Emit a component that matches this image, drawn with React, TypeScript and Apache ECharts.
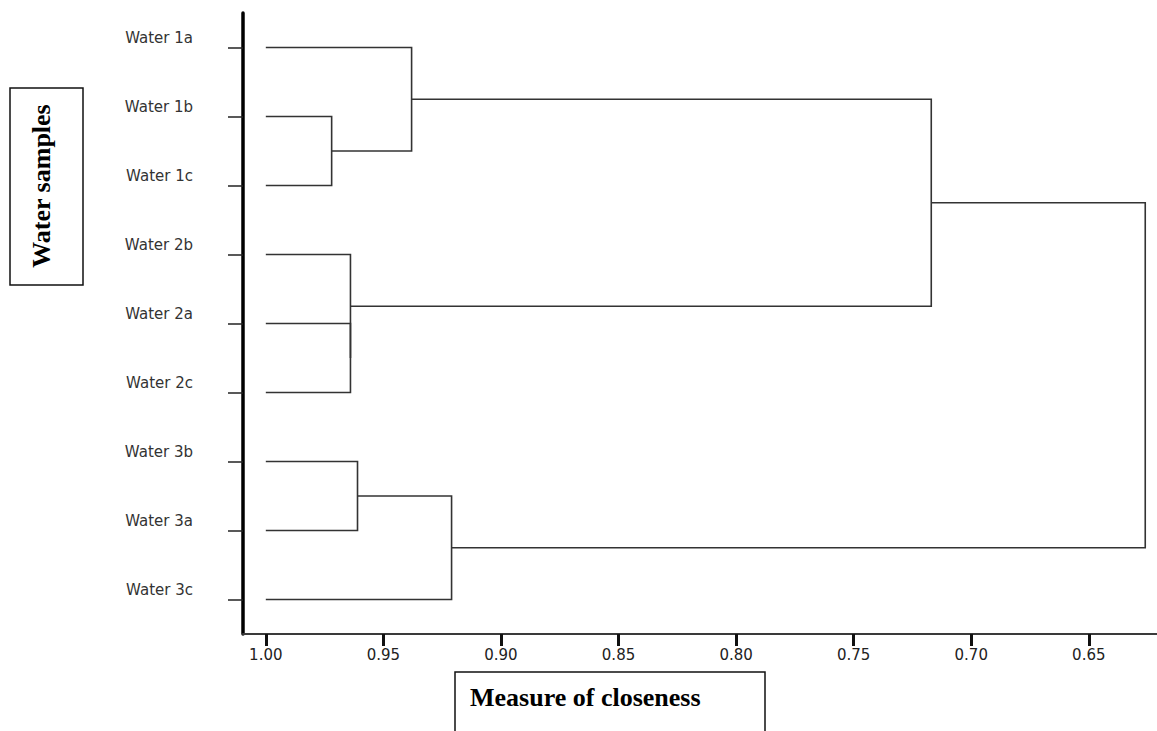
import React, { useEffect, useRef } from "react";
import * as echarts from "echarts";

// Leaf order (top to bottom)
const leafLabels: string[] = [
  "Water 1a",
  "Water 1b",
  "Water 1c",
  "Water 2b",
  "Water 2a",
  "Water 2c",
  "Water 3b",
  "Water 3a",
  "Water 3c",
];

// Merges: node ids 0..8 are leaves, merge k creates node 9 + k
const mergeA: number[] = [1, 4, 3, 6, 0, 12, 13, 15];
const mergeB: number[] = [2, 5, 10, 7, 9, 8, 11, 14];
const mergeCloseness: number[] = [0.972, 0.964, 0.964, 0.961, 0.938, 0.921, 0.717, 0.626];

// Axis tick values
const xTicks: number[] = [1.0, 0.95, 0.9, 0.85, 0.8, 0.75, 0.7, 0.65];
const xMax = 1.0097;
const xMin = 0.621;

const yTitle = "Water samples";
const xTitle = "Measure of closeness";

function buildLinks() {
  const nodeX: number[] = leafLabels.map(() => 1.0);
  const nodeY: number[] = leafLabels.map((_, i) => i);
  const rows: number[][] = [];
  for (let k = 0; k < mergeA.length; k++) {
    const a = mergeA[k];
    const b = mergeB[k];
    const s = mergeCloseness[k];
    rows.push([nodeX[a], nodeY[a], nodeX[b], nodeY[b], s]);
    nodeX.push(s);
    nodeY.push((nodeY[a] + nodeY[b]) / 2);
  }
  return rows;
}

export default function App() {
  const ref = useRef<HTMLDivElement>(null);

  useEffect(() => {
    if (!ref.current) return;
    const chart = echarts.init(ref.current, undefined, { renderer: "svg" });
    const links = buildLinks();

    chart.setOption({
      animation: false,
      backgroundColor: "#ffffff",
      grid: { left: 243, top: 13, right: 0, bottom: 97, containLabel: false },
      xAxis: {
        type: "value",
        inverse: true,
        min: xMin,
        max: xMax,
        splitLine: { show: false },
        axisLine: { show: true, onZero: false, lineStyle: { color: "#3a3a3a", width: 2 } },
        axisTick: {
          show: true,
          customValues: xTicks,
          length: 12,
          lineStyle: { color: "#111", width: 3 },
        },
        axisLabel: {
          customValues: xTicks,
          formatter: (v: number) => v.toFixed(2),
          margin: 13,
          fontFamily: "DejaVu Sans",
          fontSize: 15,
          color: "#222",
        },
      },
      yAxis: [
        {
          type: "category",
          data: leafLabels,
          inverse: true,
          boundaryGap: true,
          position: "left",
          axisLine: { show: true, onZero: false, lineStyle: { color: "#000", width: 3.5 } },
          axisTick: {
            show: true,
            alignWithLabel: true,
            length: 15,
            lineStyle: { color: "#222", width: 1.5 },
          },
          axisLabel: {
            margin: 50,
            fontFamily: "DejaVu Sans",
            fontSize: 15,
            color: "#333",
            verticalAlign: "bottom",
            lineHeight: 20,
          },
          splitLine: { show: false },
        },
        {
          type: "value",
          inverse: true,
          min: -0.5,
          max: leafLabels.length - 0.5,
          show: false,
        },
      ],
      series: [
        {
          type: "custom",
          xAxisIndex: 0,
          yAxisIndex: 1,
          clip: false,
          encode: { x: [0, 2, 4], y: [1, 3] },
          data: links,
          renderItem: (params: any, api: any) => {
            const p1 = api.coord([api.value(0), api.value(1)]);
            const p2 = api.coord([api.value(4), api.value(1)]);
            const p3 = api.coord([api.value(4), api.value(3)]);
            const p4 = api.coord([api.value(2), api.value(3)]);
            return {
              type: "polyline",
              shape: { points: [p1, p2, p3, p4] },
              style: { stroke: "#333", lineWidth: 1.6, fill: null },
            };
          },
        },
      ],
      graphic: [
        {
          type: "rect",
          shape: { x: 10, y: 88, width: 73, height: 197 },
          style: { fill: "#fff", stroke: "#111", lineWidth: 1.5 },
        },
        {
          type: "text",
          x: 41,
          y: 186,
          rotation: Math.PI / 2,
          style: {
            text: yTitle,
            fontFamily: "Liberation Serif",
            fontWeight: "bold",
            fontSize: 26,
            fill: "#000",
            textAlign: "center",
            textVerticalAlign: "middle",
          },
        },
        {
          type: "rect",
          shape: { x: 455, y: 672, width: 310, height: 80 },
          style: { fill: "#fff", stroke: "#111", lineWidth: 1.5 },
        },
        {
          type: "text",
          x: 470,
          y: 697,
          style: {
            text: xTitle,
            fontFamily: "Liberation Serif",
            fontWeight: "bold",
            fontSize: 26,
            fill: "#000",
            textAlign: "left",
            textVerticalAlign: "middle",
          },
        },
      ],
    });

    return () => {
      chart.dispose();
    };
  }, []);

  return (
    <div
      ref={ref}
      style={{ position: "fixed", left: 0, top: 0, width: 1157, height: 731, background: "#fff" }}
    />
  );
}
